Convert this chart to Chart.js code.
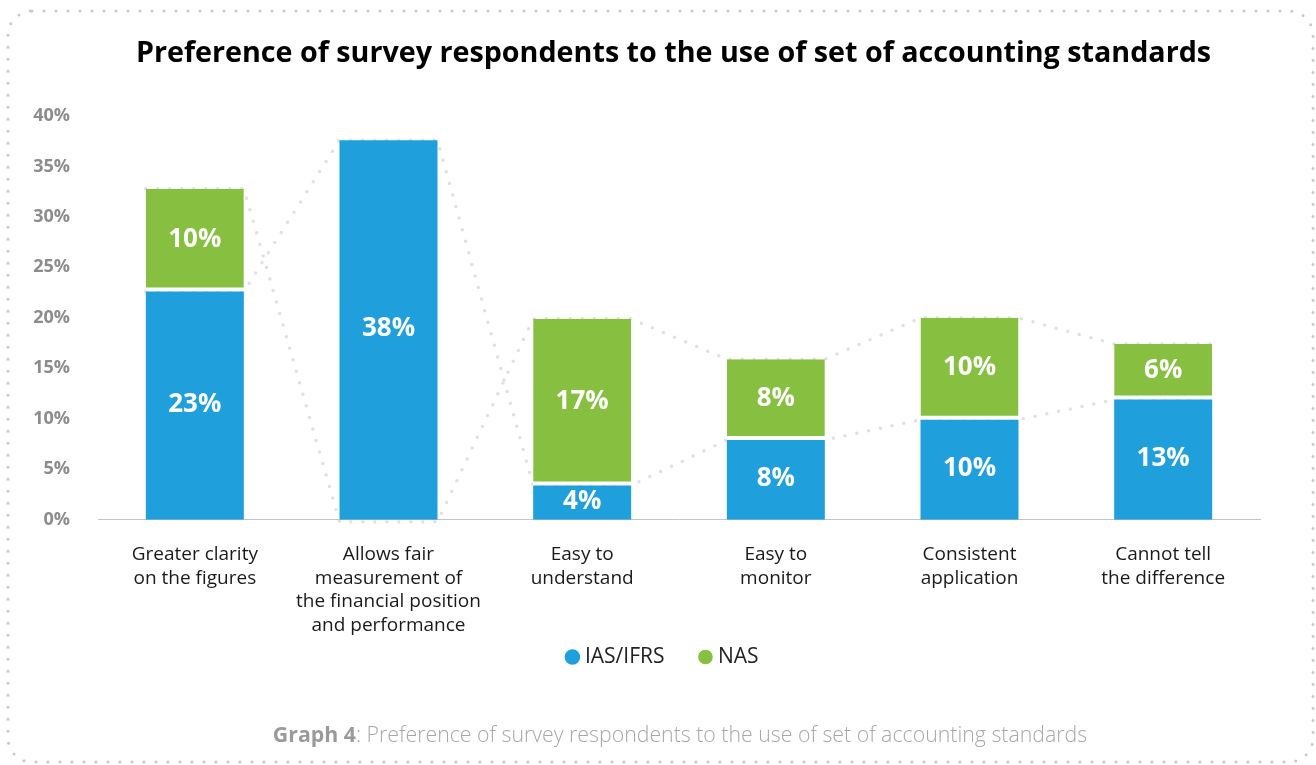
<!DOCTYPE html>
<html>
<head>
<meta charset="utf-8">
<script src="https://cdn.jsdelivr.net/npm/chart.js@4.4.0/dist/chart.umd.min.js"></script>
<style>
  html, body { margin: 0; padding: 0; background: #fff; }
  #contenedor { position: relative; width: 1316px; height: 765px; }
</style>
</head>
<body>
<div id="contenedor"><canvas id="graficoNormas"></canvas></div>
<script>
// Datos
const categorias = [
  ['Greater clarity', 'on the figures'],
  ['Allows fair', 'measurement of', 'the financial position', 'and performance'],
  ['Easy to', 'understand'],
  ['Easy to', 'monitor'],
  ['Consistent', 'application'],
  ['Cannot tell', 'the difference']
];
const valoresIas = [22.6, 37.6, 3.4, 7.9, 9.9, 11.9];
const valoresNas = [10.2, 0, 16.5, 8.0, 10.1, 5.5];
const etiquetasIas = ['23%', '38%', '4%', '8%', '10%', '13%'];
const etiquetasNas = ['10%', '', '17%', '8%', '10%', '6%'];
const ticksY = [0, 5, 10, 15, 20, 25, 30, 35, 40];

const titulo = 'Preference of survey respondents to the use of set of accounting standards';
const pieNegrita = 'Graph 4';
const pieTexto = ': Preference of survey respondents to the use of set of accounting standards';

const fuente = "'Open Sans', 'Noto Sans', sans-serif";
Chart.defaults.font.family = fuente;

// Líneas punteadas grises que unen las esquinas de las barras (detrás de las barras)
const lineasPunteadas = {
  id: 'lineasPunteadas',
  beforeDatasetsDraw(chart) {
    const ctx = chart.ctx;
    const escalaY = chart.scales.y;
    const barrasIas = chart.getDatasetMeta(0).data;
    const barrasNas = chart.getDatasetMeta(1).data;
    const trazos = [
      barrasIas.map(b => b.y),
      barrasNas.map((b, i) => valoresNas[i] > 0 ? b.y : escalaY.getPixelForValue(0) + 2)
    ];
    ctx.save();
    ctx.strokeStyle = '#e0e0e0';
    ctx.lineWidth = 3.5;
    ctx.lineCap = 'round';
    ctx.setLineDash([0, 12]);
    trazos.forEach(alturas => {
      ctx.beginPath();
      barrasIas.forEach((b, i) => {
        const izq = b.x - b.width / 2;
        const der = b.x + b.width / 2;
        if (i === 0) ctx.moveTo(izq, alturas[i]); else ctx.lineTo(izq, alturas[i]);
        ctx.lineTo(der, alturas[i]);
      });
      ctx.stroke();
    });
    ctx.restore();
  }
};

// Porcentajes en blanco dentro de cada segmento
const etiquetasBarras = {
  id: 'etiquetasBarras',
  afterDatasetsDraw(chart) {
    const ctx = chart.ctx;
    ctx.save();
    ctx.fillStyle = '#ffffff';
    ctx.font = 'bold 26px ' + fuente;
    ctx.textAlign = 'center';
    ctx.textBaseline = 'middle';
    [etiquetasIas, etiquetasNas].forEach((textos, d) => {
      chart.getDatasetMeta(d).data.forEach((b, i) => {
        if (!textos[i]) return;
        ctx.fillText(textos[i], b.x, (b.y + b.base) / 2 - 1);
      });
    });
    ctx.restore();
  }
};

// Centrar título y leyenda como en la imagen original
const ajusteCajas = {
  id: 'ajusteCajas',
  afterLayout(chart) {
    chart.titleBlock.left = 87;
    chart.legend.left = 69;
    chart.legend.top = 607.5;
  }
};

// Marco punteado redondeado y pie de gráfico
const marcoYPie = {
  id: 'marcoYPie',
  afterDraw(chart) {
    const ctx = chart.ctx;
    ctx.save();
    ctx.strokeStyle = '#c8c8c8';
    ctx.lineWidth = 3;
    ctx.lineCap = 'round';
    ctx.setLineDash([0, 12]);
    ctx.beginPath();
    ctx.roundRect(8, 11, 1305, 751, 24);
    ctx.stroke();
    ctx.setLineDash([]);

    ctx.textBaseline = 'middle';
    ctx.font = 'bold 21.3px ' + fuente;
    const anchoNegrita = ctx.measureText(pieNegrita).width;
    ctx.font = '300 21.3px ' + fuente;
    const anchoTexto = ctx.measureText(pieTexto).width;
    let x = 680 - (anchoNegrita + anchoTexto) / 2;
    ctx.textAlign = 'left';
    ctx.font = 'bold 21.3px ' + fuente;
    ctx.fillStyle = '#9a9a9a';
    ctx.fillText(pieNegrita, x, 736);
    ctx.font = '300 21.3px ' + fuente;
    ctx.fillStyle = '#a8a8a8';
    ctx.fillText(pieTexto, x + anchoNegrita, 736);
    ctx.restore();
  }
};

const ctx = document.getElementById('graficoNormas').getContext('2d');
const grafico = new Chart(ctx, {
  type: 'bar',
  data: {
    labels: categorias,
    datasets: [
      {
        label: 'IAS/IFRS',
        data: valoresIas,
        backgroundColor: '#1f9fdb',
        borderWidth: 0,
        barPercentage: 0.506,
        categoryPercentage: 1
      },
      {
        label: 'NAS',
        data: valoresNas,
        backgroundColor: '#87bf40',
        borderColor: '#ffffff',
        borderWidth: { top: 0, left: 0, right: 0, bottom: 4 },
        borderSkipped: false,
        barPercentage: 0.506,
        categoryPercentage: 1
      }
    ]
  },
  options: {
    responsive: true,
    maintainAspectRatio: false,
    animation: false,
    layout: { padding: { left: 33, right: 56, top: 0, bottom: 35 } },
    plugins: {
      title: {
        display: true,
        text: titulo,
        color: '#000000',
        font: { size: 28.7, weight: 'bold' },
        padding: { top: 37, bottom: 44.5 }
      },
      legend: {
        position: 'bottom',
        labels: {
          usePointStyle: true,
          pointStyle: 'circle',
          boxWidth: 4,
          boxHeight: 11,
          padding: 39,
          color: '#222222',
          font: { size: 21 }
        }
      },
      tooltip: { enabled: false }
    },
    scales: {
      x: {
        stacked: true,
        grid: { display: false, drawTicks: false },
        border: { display: true, color: '#c4c4c4', width: 1 },
        ticks: {
          color: '#1a1a1a',
          font: { size: 19, lineHeight: 1.24 },
          maxRotation: 0,
          autoSkip: false,
          padding: 23
        }
      },
      y: {
        stacked: true,
        min: 0,
        max: 40,
        grid: { display: false, drawTicks: false },
        border: { display: false },
        afterFit(escala) { escala.width = 65; },
        afterBuildTicks(escala) { escala.ticks = ticksY.map(v => ({ value: v })); },
        ticks: {
          color: '#8c8c8c',
          font: { size: 18, weight: 'bold' },
          padding: 28,
          callback: v => v + '%'
        }
      }
    }
  },
  plugins: [lineasPunteadas, etiquetasBarras, ajusteCajas, marcoYPie]
});
</script>
</body>
</html>
